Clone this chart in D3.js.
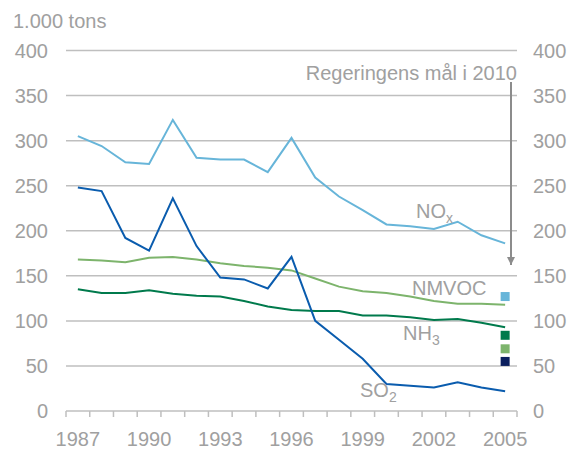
<!DOCTYPE html>
<html>
<head>
<meta charset="utf-8">
<script src="https://cdn.jsdelivr.net/npm/d3@7"></script>
<style>
  body { margin: 0; background: #fff; }
  svg text { font-family: "Liberation Sans", Arial, sans-serif; fill: #a0a0a0; }
</style>
</head>
<body>
<svg id="chart" width="575" height="449"></svg>
<script>
// data
var years = d3.range(1987, 2006);
var yearLabels = [1987, 1990, 1993, 1996, 1999, 2002, 2005];
var yTicks = [0, 50, 100, 150, 200, 250, 300, 350, 400];

var nox   = [305, 294, 276, 274, 323, 281, 279, 279, 265, 303, 259, 238, 223, 207, 205, 202, 210, 195, 186];
var so2   = [248, 244, 192, 178, 236, 183, 148, 146, 136, 171, 100, 79, 58, 30, 28, 26, 32, 26, 22];
var nmvoc = [168, 167, 165, 170, 171, 168, 164, 161, 159, 156, 147, 138, 133, 131, 127, 122, 119, 119, 118];
var nh3   = [135, 131, 131, 134, 130, 128, 127, 122, 116, 112, 111, 111, 106, 106, 104, 101, 102, 98, 93];

// 2010 targets (squares)
var targets = [
  {name: 'NOx', value: 127, color: '#67b5d9'},
  {name: 'NH3', value: 84, color: '#007a4c'},
  {name: 'NMVOC', value: 69, color: '#7db46c'},
  {name: 'SO2', value: 55, color: '#0b1f5e'}
];
var arrowFrom = 365, arrowTo = 162;

var series = [
  {name: 'NOx', values: nox, color: '#67b5d9'},
  {name: 'NMVOC', values: nmvoc, color: '#7db46c'},
  {name: 'NH3', values: nh3, color: '#007a4c'},
  {name: 'SO2', values: so2, color: '#0a5cae'}
];

var svg = d3.select('#chart');
var mLeft = 66, mRight = 517, mTop = 50.5, mBottom = 411;
var gridColor = '#bfbfbf';
var fs = '20px';

var x = d3.scaleBand().domain(years).range([mLeft, mRight]);
var y = d3.scaleLinear().domain([0, 400]).range([mBottom, mTop]);
var cx = function(yr) { return x(yr) + x.bandwidth() / 2; };

// gridlines
svg.append('g').selectAll('line')
  .data(yTicks.filter(function(d) { return d > 0; }))
  .enter().append('line')
  .attr('x1', mLeft).attr('x2', mRight)
  .attr('y1', function(d) { return y(d); })
  .attr('y2', function(d) { return y(d); })
  .style('stroke', gridColor)
  .style('stroke-width', 1.5);

// x axis
var xAxis = svg.append('g').attr('transform', 'translate(0,' + mBottom + ')');
xAxis.append('line').attr('x1', mLeft).attr('x2', mRight)
  .style('stroke', gridColor).style('stroke-width', 1.5);
xAxis.selectAll('line.tick')
  .data(years.concat([2006]))
  .enter().append('line')
  .attr('class', 'tick')
  .attr('x1', function(d, i) { return mLeft + i * x.bandwidth(); })
  .attr('x2', function(d, i) { return mLeft + i * x.bandwidth(); })
  .attr('y1', 0).attr('y2', 6)
  .style('stroke', gridColor).style('stroke-width', 1.5);
xAxis.selectAll('text')
  .data(yearLabels)
  .enter().append('text')
  .attr('x', function(d) { return cx(d); })
  .attr('y', 35)
  .attr('text-anchor', 'middle')
  .style('font-size', fs)
  .text(function(d) { return d; });

// y labels, both sides
svg.append('g').selectAll('text')
  .data(yTicks)
  .enter().append('text')
  .attr('x', 48)
  .attr('y', function(d) { return y(d); })
  .attr('dy', '0.35em')
  .attr('text-anchor', 'end')
  .style('font-size', fs)
  .text(function(d) { return d; });
svg.append('g').selectAll('text')
  .data(yTicks)
  .enter().append('text')
  .attr('x', 533)
  .attr('y', function(d) { return y(d); })
  .attr('dy', '0.35em')
  .style('font-size', fs)
  .text(function(d) { return d; });

svg.append('text')
  .attr('x', 13).attr('y', 28)
  .style('font-size', fs)
  .text('1.000 tons');

// lines
var line = d3.line()
  .x(function(d, i) { return cx(years[i]); })
  .y(function(d) { return y(d); });
series.forEach(function(s) {
  svg.append('path')
    .datum(s.values)
    .attr('d', line)
    .style('fill', 'none')
    .style('stroke', s.color)
    .style('stroke-width', 2);
});

// target squares
svg.append('g').selectAll('rect')
  .data(targets)
  .enter().append('rect')
  .attr('x', cx(2005) - 4.5)
  .attr('y', function(d) { return y(d.value) - 4.5; })
  .attr('width', 9).attr('height', 9)
  .style('fill', function(d) { return d.color; });

// arrow
var ax = 511;
svg.append('defs').append('marker')
  .attr('id', 'head')
  .attr('viewBox', '0 0 10 10')
  .attr('refX', 10).attr('refY', 5)
  .attr('markerWidth', 4).attr('markerHeight', 4)
  .attr('orient', 'auto')
  .append('path').attr('d', 'M0,0L10,5L0,10z').style('fill', '#8c8c8c');
svg.append('line')
  .attr('x1', ax).attr('x2', ax)
  .attr('y1', y(arrowFrom)).attr('y2', y(arrowTo))
  .style('stroke', '#8c8c8c').style('stroke-width', 2)
  .attr('marker-end', 'url(#head)');
svg.append('text')
  .attr('x', 517).attr('y', 80)
  .attr('text-anchor', 'end')
  .style('font-size', fs)
  .text('Regeringens mål i 2010');

// series labels
function label(xp, yp, main, sub) {
  var t = svg.append('text').attr('x', xp).attr('y', yp).style('font-size', fs);
  t.append('tspan').text(main);
  if (sub) t.append('tspan').attr('dy', 5).style('font-size', '14px').text(sub);
}
label(416, 218, 'NO', 'x');
label(412, 295, 'NMVOC');
label(403, 340, 'NH', '3');
label(360, 397, 'SO', '2');
</script>
</body>
</html>
